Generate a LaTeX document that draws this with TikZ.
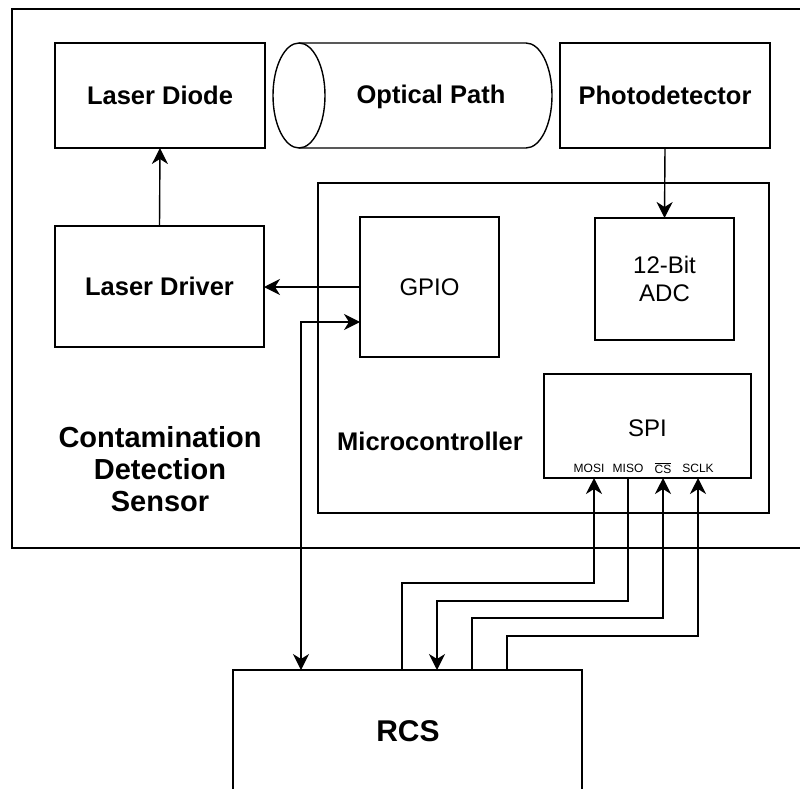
\documentclass[tikz,border=0pt]{standalone}
\usepackage{fontspec}
\setmainfont{Liberation Sans}
\usetikzlibrary{arrows.meta}
\begin{document}
\begin{tikzpicture}[x=1pt,y=-1pt,
  box/.style={draw,line width=1.4pt,rectangle,inner sep=0pt,outer sep=0pt,align=center},
  boldtxt/.style={font=\fontsize{25.5}{30}\selectfont\bfseries},
  regtxt/.style={font=\fontsize{24}{28}\selectfont},
  pintxt/.style={font=\fontsize{12}{14}\selectfont,inner sep=0pt},
  wire/.style={line width=1.4pt},
  arr/.style={wire,-{Stealth[length=16pt,width=16pt,inset=5pt]}},
  arrboth/.style={wire,{Stealth[length=16pt,width=16pt,inset=5pt]}-{Stealth[length=16pt,width=16pt,inset=5pt]}}]
\useasboundingbox (0,0) rectangle (800,789);
\clip (0,0) rectangle (800,789);
\fill[white] (0,0) rectangle (800,789);

% outer sensor box
\node[box,minimum width=820pt,minimum height=539pt,anchor=north west] (sensor) at (12,9) {};

% top row
\node[box,boldtxt,minimum width=210pt,minimum height=105pt] (ldiode) at (160,95.5) {Laser Diode};
\node[box,boldtxt,minimum width=210pt,minimum height=105pt] (photo) at (665,95.5) {Photodetector};
\node[boldtxt,inner sep=0pt,minimum width=279pt,minimum height=105pt] (optic) at (412.5,95.5) {};
\draw[line width=1.4pt,fill=white] (299,43) -- (526,43) arc[start angle=90,end angle=-90,x radius=26,y radius=-52.5] -- (299,148);
\draw[line width=1.4pt,fill=white] (299,95.5) ellipse[x radius=26,y radius=52.5];
\node[boldtxt] (optictxt) at (431,97) {Optical Path};

% laser driver
\node[box,boldtxt,minimum width=209pt,minimum height=121pt] (ldrv) at (159.5,286.5) {Laser Driver};

% microcontroller
\node[box,minimum width=451pt,minimum height=330pt] (mcu) at (543.5,348) {};
\node[boldtxt] (mcutxt) at (430,441) {Microcontroller};
\node[box,regtxt,minimum width=139pt,minimum height=140pt] (gpio) at (429.5,287) {GPIO};
\node[box,regtxt,minimum width=139pt,minimum height=122pt] (adc) at (664.5,279) {12-Bit\\ADC};
\node[box,minimum width=207pt,minimum height=104pt] (spi) at (647.5,426) {};
\node[regtxt] (spitxt) at (647.5,428) {SPI};
\node[pintxt] (mosi) at (589,468) {MOSI};
\node[pintxt] (miso) at (628,468) {MISO};
\node[pintxt] (cs) at (663,468) {$\overline{\mbox{CS}}$};
\node[pintxt] (sclk) at (698,468) {SCLK};

% sensor label
\node[font=\fontsize{29}{32}\selectfont\bfseries,align=center] (senstxt) at (160,469) {Contamination\\Detection\\Sensor};

% RCS
\node[box,minimum width=349pt,minimum height=200pt,anchor=north west] (rcs) at (233,670) {};
\node[font=\fontsize{30}{34}\selectfont\bfseries] (rcstxt) at (408,731) {RCS};

% coordinates for wire routing
\coordinate (b1) at (402,583);
\coordinate (b2) at (437,601);
\coordinate (b3) at (472,618);
\coordinate (b4) at (507,636);
\coordinate (b5) at (301,322);
\coordinate (p1) at (594,0);
\coordinate (p2) at (628,0);
\coordinate (p3) at (663,0);
\coordinate (p4) at (698,0);

% connectors
\draw[arr] (ldrv.north) -- (ldiode.south);
\draw[arr] (photo.south) -- (adc.north);
\draw[arr] (gpio.west) -- (ldrv.east |- gpio.west);
\draw[arrboth] (gpio.west |- b5) -| (rcs.north -| b5);
\draw[arr] (rcs.north -| b1) -- (b1) -| (spi.south -| p1);
\draw[arr] (spi.south -| p2) |- (b2) -- (rcs.north -| b2);
\draw[arr] (rcs.north -| b3) -- (b3) -| (spi.south -| p3);
\draw[arr] (rcs.north -| b4) -- (b4) -| (spi.south -| p4);
\end{tikzpicture}
\end{document}
